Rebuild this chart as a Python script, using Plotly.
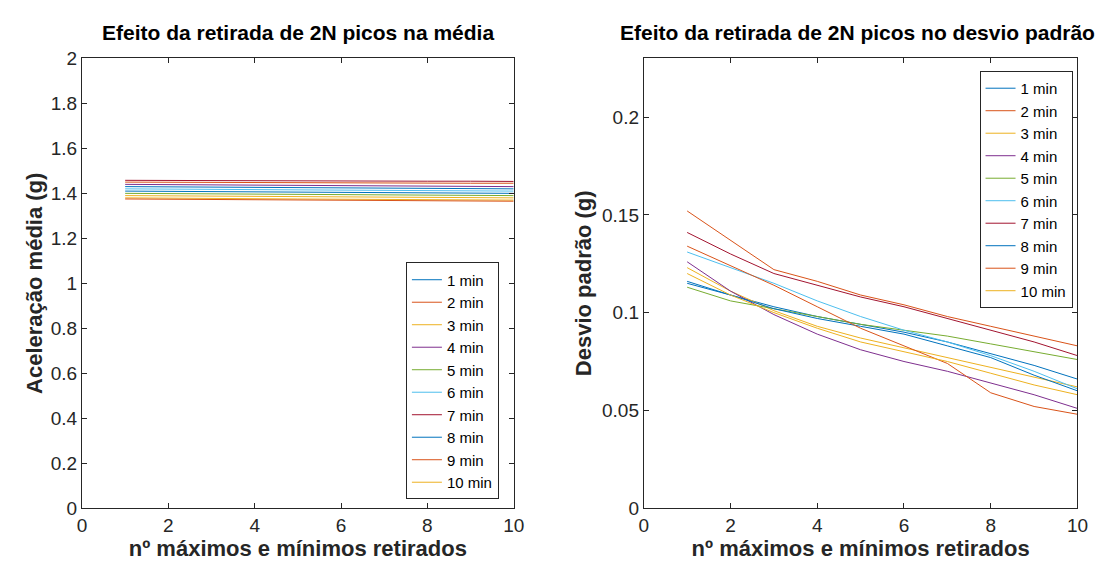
import plotly.graph_objects as go

x_vals = [1, 2, 3, 4, 5, 6, 7, 8, 9, 10]
series_names = ["1 min", "2 min", "3 min", "4 min", "5 min",
                "6 min", "7 min", "8 min", "9 min", "10 min"]

# Left plot: mean acceleration (g)
mean_1 = [1.410, 1.409, 1.408, 1.407, 1.406, 1.405, 1.404, 1.403, 1.402, 1.400]
mean_2 = [1.450, 1.449, 1.448, 1.448, 1.447, 1.447, 1.446, 1.446, 1.445, 1.445]
mean_3 = [1.380, 1.378, 1.377, 1.376, 1.375, 1.374, 1.373, 1.372, 1.371, 1.370]
mean_4 = [1.440, 1.439, 1.438, 1.437, 1.436, 1.435, 1.434, 1.433, 1.432, 1.430]
mean_5 = [1.400, 1.399, 1.398, 1.397, 1.396, 1.395, 1.394, 1.393, 1.392, 1.390]
mean_6 = [1.420, 1.419, 1.418, 1.417, 1.416, 1.415, 1.414, 1.413, 1.412, 1.410]
mean_7 = [1.458, 1.457, 1.457, 1.456, 1.456, 1.455, 1.455, 1.454, 1.454, 1.453]
mean_8 = [1.430, 1.429, 1.428, 1.427, 1.426, 1.425, 1.424, 1.423, 1.422, 1.420]
mean_9 = [1.375, 1.374, 1.373, 1.372, 1.371, 1.370, 1.369, 1.368, 1.367, 1.365]
mean_10 = [1.390, 1.389, 1.388, 1.387, 1.386, 1.385, 1.384, 1.383, 1.382, 1.380]
means = [mean_1, mean_2, mean_3, mean_4, mean_5, mean_6, mean_7, mean_8, mean_9, mean_10]

# Right plot: standard deviation (g)
std_1 = [0.116, 0.109, 0.103, 0.098, 0.094, 0.090, 0.085, 0.079, 0.073, 0.066]
std_2 = [0.152, 0.137, 0.122, 0.116, 0.109, 0.104, 0.098, 0.093, 0.088, 0.083]
std_3 = [0.123, 0.111, 0.101, 0.093, 0.087, 0.082, 0.077, 0.072, 0.067, 0.062]
std_4 = [0.126, 0.111, 0.099, 0.089, 0.081, 0.075, 0.070, 0.064, 0.058, 0.051]
std_5 = [0.113, 0.106, 0.102, 0.098, 0.094, 0.091, 0.088, 0.084, 0.080, 0.076]
std_6 = [0.131, 0.123, 0.115, 0.106, 0.098, 0.091, 0.085, 0.078, 0.070, 0.061]
std_7 = [0.141, 0.130, 0.120, 0.114, 0.108, 0.103, 0.097, 0.091, 0.085, 0.078]
std_8 = [0.115, 0.109, 0.102, 0.097, 0.093, 0.089, 0.083, 0.077, 0.068, 0.060]
std_9 = [0.134, 0.124, 0.114, 0.103, 0.092, 0.083, 0.074, 0.059, 0.052, 0.048]
std_10 = [0.120, 0.109, 0.100, 0.092, 0.085, 0.080, 0.075, 0.069, 0.063, 0.058]
stds = [std_1, std_2, std_3, std_4, std_5, std_6, std_7, std_8, std_9, std_10]

x_ticks = [0, 2, 4, 6, 8, 10]
left_y_ticks = [0, 0.2, 0.4, 0.6, 0.8, 1, 1.2, 1.4, 1.6, 1.8, 2]
right_y_ticks = [0, 0.05, 0.1, 0.15, 0.2]

colors = ["#0072BD", "#D95319", "#EDB120", "#7E2F8E", "#77AC30",
          "#4DBEEE", "#A2142F", "#0072BD", "#D95319", "#EDB120"]

FONT = "Liberation Sans, Arial, sans-serif"
AX = "#262626"

fig = go.Figure()
for name, ys, c in zip(series_names, means, colors):
    fig.add_trace(go.Scatter(x=x_vals, y=ys, name=name, mode="lines",
                             line=dict(color=c, width=1), xaxis="x", yaxis="y",
                             legend="legend"))
for name, ys, c in zip(series_names, stds, colors):
    fig.add_trace(go.Scatter(x=x_vals, y=ys, name=name, mode="lines",
                             line=dict(color=c, width=1), xaxis="x2", yaxis="y2",
                             legend="legend2"))

W, H = 1113, 567
L1, R1 = 70 / W, 508 / W
L2, R2 = 640 / W, 1080 / W
T, B = 1 - 42 / H, 1 - 509 / H

axis_common = dict(showline=True, linecolor=AX, linewidth=1, mirror="ticks",
                   ticks="inside", ticklen=5, tickcolor=AX, showgrid=False,
                   zeroline=False, tickfont=dict(family=FONT, size=19, color=AX))
title_font = dict(family=FONT, size=22, color=AX, weight="bold")

fig.update_layout(
    width=W, height=H,
    margin=dict(l=0, r=0, t=0, b=0),
    paper_bgcolor="white", plot_bgcolor="white",
    font=dict(family=FONT, color=AX),
    xaxis=dict(domain=[L1, R1], range=[0, 10], tickvals=x_ticks, anchor="y",
               title=dict(text="nº máximos e mínimos retirados", font=title_font, standoff=2),
               **axis_common),
    yaxis=dict(domain=[B, T], range=[0, 2], tickvals=left_y_ticks, anchor="x",
               title=dict(text="Aceleração média (g)", font=title_font, standoff=2),
               **axis_common),
    xaxis2=dict(domain=[L2, R2], range=[0, 10], tickvals=x_ticks, anchor="y2",
                title=dict(text="nº máximos e mínimos retirados", font=title_font, standoff=2),
                **axis_common),
    yaxis2=dict(domain=[B, T], range=[0, 0.23], tickvals=right_y_ticks, anchor="x2",
                title=dict(text="Desvio padrão (g)", font=title_font, standoff=4),
                **axis_common),
    legend=dict(x=493 / W, y=1 - 500 / H, xanchor="right", yanchor="bottom",
                bgcolor="white", bordercolor=AX, borderwidth=1,
                font=dict(family=FONT, size=15, color="black"),
                tracegroupgap=0, itemwidth=30),
    legend2=dict(x=1075 / W, y=1 - 55 / H, xanchor="right", yanchor="top",
                 bgcolor="white", bordercolor=AX, borderwidth=1,
                 font=dict(family=FONT, size=15, color="black"),
                 tracegroupgap=0, itemwidth=30),
    showlegend=True,
    annotations=[
        dict(text="<b>Efeito da retirada de 2N picos na média</b>", x=(L1 + R1) / 2, y=1 - 15 / H,
             xref="paper", yref="paper", showarrow=False, xanchor="center", yanchor="middle",
             font=dict(family=FONT, size=21, color="black")),
        dict(text="<b>Efeito da retirada de 2N picos no desvio padrão</b>", x=857 / W, y=1 - 15 / H,
             xref="paper", yref="paper", showarrow=False, xanchor="center", yanchor="middle",
             font=dict(family=FONT, size=21, color="black")),
    ],
)

fig.write_html("out.html")
